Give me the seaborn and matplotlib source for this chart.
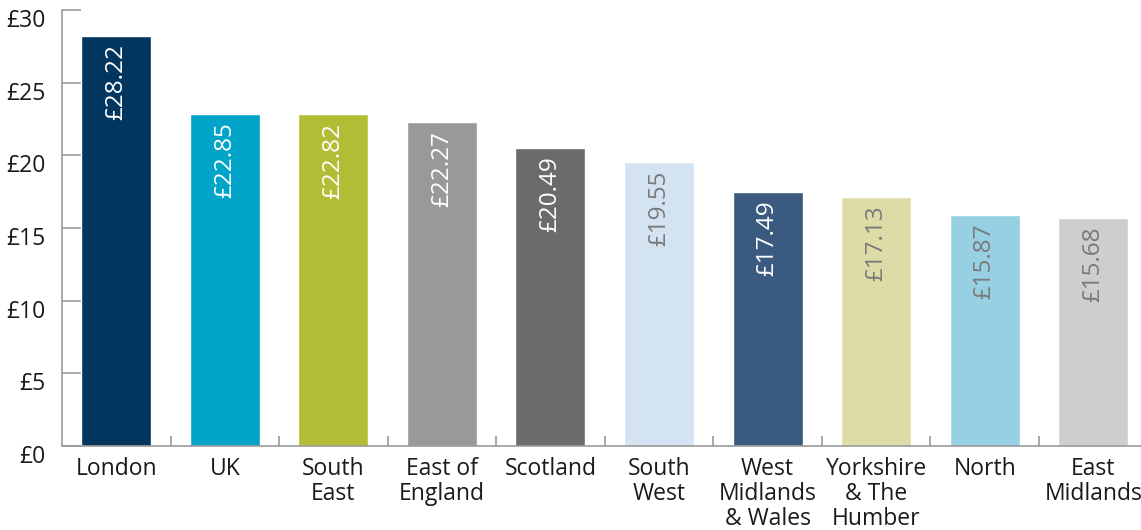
import matplotlib
matplotlib.use("Agg")
import matplotlib.pyplot as plt
import matplotlib.transforms as mtransforms
from matplotlib.ticker import FixedLocator
import seaborn as sns
import pandas as pd

regions = ["London", "UK", "South\nEast", "East of\nEngland", "Scotland",
           "South\nWest", "West\nMidlands\n& Wales", "Yorkshire\n& The\nHumber",
           "North", "East\nMidlands"]
values = [28.22, 22.85, 22.82, 22.27, 20.49, 19.55, 17.49, 17.13, 15.87, 15.68]
colors = ["#02365F", "#00A4C8", "#B2BC35", "#999999", "#6B6B6B",
          "#D4E3F2", "#3A5A80", "#DDDCA7", "#96D0E2", "#CFCDCF"]
label_colors = ["white", "white", "white", "white", "white",
                "#7A7A7A", "white", "#7A7A7A", "#7A7A7A", "#7A7A7A"]
y_ticks = [0, 5, 10, 15, 20, 25, 30]

sns.set_style("white")
plt.rcParams["font.family"] = ["Open Sans", "DejaVu Sans"]

df = pd.DataFrame({"region": regions, "value": values})

fig = plt.figure(figsize=(11.41, 5.30), dpi=100)
ax = fig.add_axes([62 / 1141, 1 - 446 / 530, 1 - 62 / 1141, (446 - 10) / 530])

sns.barplot(data=df, x="region", y="value", hue="region", palette=colors,
            width=0.645, saturation=1, legend=False, ax=ax)

for patch, val, lc in zip(ax.patches, values, label_colors):
    cx = patch.get_x() + patch.get_width() / 2
    ax.annotate(f"£{val:.2f}", xy=(cx, val), xytext=(0, -6),
                textcoords="offset points", rotation=90, ha="center", va="top",
                color=lc, fontsize=17.5)

ax.set_xlim(-0.5, 9.44)
ax.set_ylim(0, 30)
ax.set_xlabel("")
ax.set_ylabel("")

ax.set_yticks(y_ticks)
ax.set_yticklabels([f"£{t}" for t in y_ticks], fontsize=16.5, color="#1a1a1a")
ax.tick_params(axis="y", which="major", left=True, direction="in", length=14,
               width=1.2, color="#9a9a9a", pad=12)
offset = mtransforms.ScaledTranslation(0, -8 / 100, fig.dpi_scale_trans)
for lab in ax.get_yticklabels():
    lab.set_transform(lab.get_transform() + offset)

ax.tick_params(axis="x", which="major", bottom=False, length=0, pad=8,
               labelsize=16.5, labelcolor="#1a1a1a")
ax.xaxis.set_minor_locator(FixedLocator([i + 0.5 for i in range(len(regions))]))
ax.tick_params(axis="x", which="minor", bottom=True, direction="in", length=7,
               width=1.2, color="#9a9a9a")
for lab in ax.get_xticklabels():
    lab.set_linespacing(1.05)
    lab.set_va("top")

for side in ["top", "right"]:
    ax.spines[side].set_visible(False)
for side in ["left", "bottom"]:
    ax.spines[side].set_color("#9a9a9a")
    ax.spines[side].set_linewidth(1.2)

fig.savefig("out.png", dpi=100)
